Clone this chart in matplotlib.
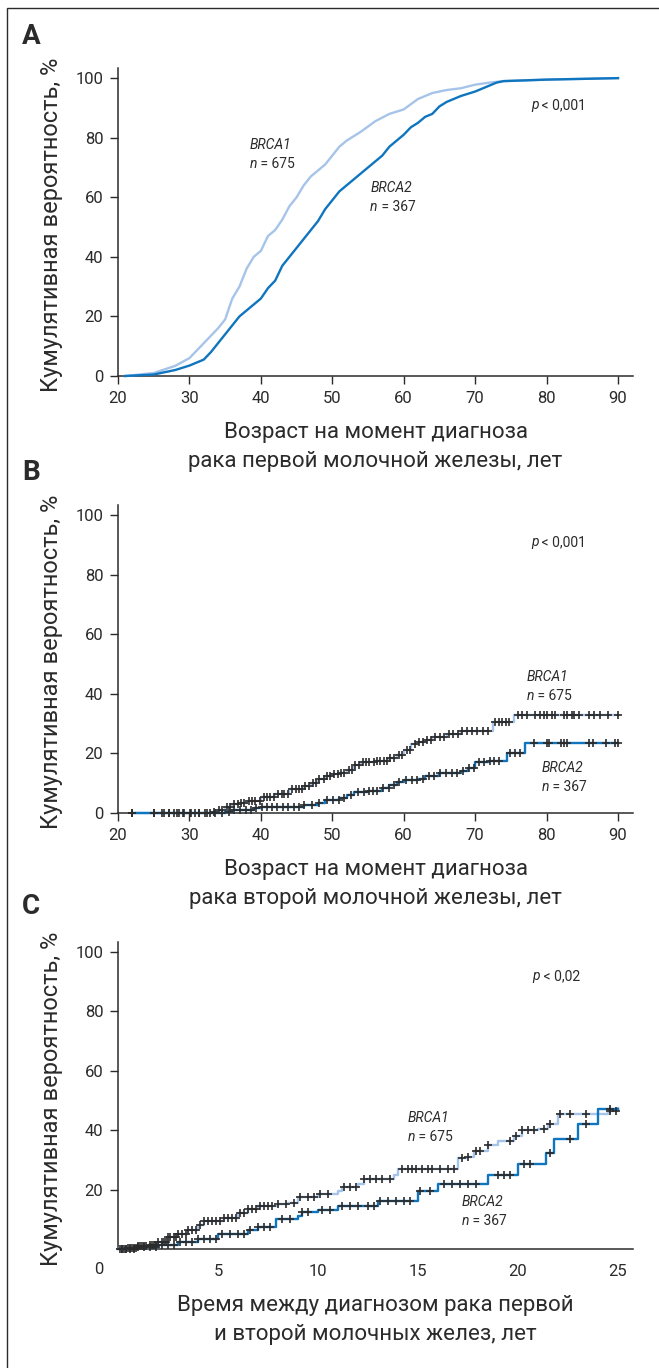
import matplotlib.pyplot as plt
import numpy as np
from matplotlib.patches import Rectangle

plt.rcParams['font.family'] = ['Roboto', 'DejaVu Sans']

LIGHT = '#a6c4e9'
DARK = '#0f75bf'
INK = '#2b2b2b'

# ---- panel A: age at first breast cancer
a_age1 = [21, 25, 28, 30, 32, 34, 35, 36, 37, 38, 39, 40, 41, 42, 43, 44, 45, 46, 47, 48, 49,
          50, 51, 52, 54, 56, 58, 60, 62, 64, 66, 68, 70, 72, 74, 80, 90]
a_cum1 = [0, 1, 3.4, 6, 11, 16, 19, 26, 30, 36, 40, 42, 47, 49, 52.5, 57, 60, 64, 67, 69, 71,
          74, 77, 79, 82, 85.5, 88, 89.5, 93, 95, 96, 96.6, 97.8, 98.5, 99, 99.5, 100]
a_age2 = [21, 25, 28, 30, 32, 33, 34, 35, 36, 37, 38, 39, 40, 41, 42, 43, 44, 45, 46, 47, 48, 49,
          50, 51, 52, 53, 54, 55, 56, 57, 58, 59, 60, 61, 62, 63, 64, 65, 66, 67, 68, 70, 71, 72,
          73, 74, 80, 90]
a_cum2 = [0, 0.5, 2, 3.5, 5.5, 8, 11, 14, 17, 20, 22, 24, 26, 29.5, 32, 37, 40, 43, 46, 49, 52, 56,
          59, 62, 64, 66, 68, 70, 72, 74, 77, 79, 81, 83.5, 85, 87, 88, 90.5, 92, 93, 94, 95.5, 96.5,
          97.5, 98.5, 99, 99.5, 100]

# ---- panel B: age at second breast cancer
b_age1 = [22, 33, 34, 35, 36, 37, 38, 40, 42, 44, 46, 47, 48, 49, 50, 51, 52, 53, 54, 56, 58, 59,
          60, 61, 62, 63, 64, 66, 68, 72.5, 75.5, 90]
b_cum1 = [0, 0.5, 1, 2, 3, 3.5, 4, 5.5, 6.5, 8, 9, 10, 11.5, 12.5, 13, 13.5, 14.5, 16, 17, 17.5,
          18.5, 19.5, 21, 23, 24, 24.5, 25.5, 26.5, 27.5, 30.5, 33, 33]
b_cens1 = [22, 25.1, 26.4, 27.2, 27.9, 28.6, 29.3, 30.1, 30.8, 31.4, 32.2, 32.9, 33.4, 34.1, 34.6,
           35.2, 35.7, 36.3, 36.8, 37.2, 37.7, 38.3, 38.8, 39.2, 39.9, 40.4, 40.8, 41.3, 41.9, 42.4,
           42.9, 43.3, 43.8, 44.4, 44.9, 45.3, 45.7, 46.2, 46.8, 47.3, 47.7, 48.2, 48.8, 49.3, 49.7,
           50.3, 50.8, 51.2, 51.7, 52.3, 52.7, 53.2, 53.8, 54.3, 54.7, 55.2, 55.8, 56.3, 56.7, 57.2,
           57.6, 58.1, 58.7, 59.3, 59.8, 60.4, 60.9, 61.6, 62.2, 62.7, 63.3, 63.8, 64.4, 65.1, 65.7,
           66.3, 66.9, 67.6, 68.2, 68.9, 69.5, 70.2, 71.1, 71.8, 72.8, 73.3, 73.8, 74.3, 74.8,
           76.0, 76.6, 77.3, 78.4, 79.1, 79.7, 80.1, 80.7, 81.2, 82.5, 82.9, 83.5, 83.9, 84.6, 86.0,
           86.6, 87.5, 88.6, 90]
b_age2 = [22, 35, 36, 39, 40, 46, 48, 49, 51, 52, 53, 55, 57, 58, 59, 60, 62, 63, 65, 68, 69, 70,
          72, 74.5, 77, 90]
b_cum2 = [0, 0.5, 1, 1.8, 2, 2.8, 3.5, 4.5, 5, 6, 7.2, 7.5, 8.5, 9.5, 10.5, 11, 11.5, 12.5, 13.5,
          14, 15, 17, 17.5, 20, 23.5, 23.5]
b_cens2 = [22, 25, 26.2, 27.1, 28.3, 29.1, 30.2, 31.3, 32.4, 33.6, 34.6, 35.6, 36.3, 37.1, 37.9,
           38.6, 39.3, 40.1, 40.9, 41.6, 42.3, 43.1, 43.8, 44.6, 45.3, 46.1, 47.2, 48.1, 49.3, 50.1,
           50.9, 51.6, 52.6, 53.6, 54.5, 55.1, 55.7, 56.3, 57.1, 57.9, 58.7, 59.4, 60.3, 61.1, 61.9,
           62.7, 63.5, 64.3, 65.1, 65.9, 66.7, 67.5, 68.3, 69.1, 69.8, 70.6, 71.3, 72.1, 72.7, 73.4,
           74.9, 75.6, 76.3, 78.3, 80.1, 80.4, 82.0, 82.5, 82.9, 86.0, 86.5, 88.3, 89.6, 90]

# ---- panel C: years between first and second cancer
c_t1 = [0, 0.5, 1, 1.5, 2, 2.5, 3, 3.5, 4, 4.3, 5.3, 6, 6.5, 7, 8, 8.5, 9, 10, 11, 11.2, 12, 12.3,
        13.8, 14, 17, 17.5, 17.8, 18.5, 19, 19.8, 20.2, 21, 21.5, 22, 24.5, 25]
c_cum1 = [0, 0.5, 1, 1.5, 2.5, 4, 5, 6.5, 8, 9.5, 10.5, 12, 13.5, 14.5, 15, 15.5, 17.5, 18.5,
          19.5, 21, 22, 23.5, 25, 27, 30.5, 31, 33, 35, 36.5, 38, 40, 40.5, 42, 45.5, 46.5, 47.5]
c_cens1 = [0.1, 0.2, 0.3, 0.4, 0.5, 0.6, 0.7, 0.8, 0.9, 1.0, 1.1, 1.2, 1.3, 1.4, 1.6, 1.7, 1.8,
           1.9, 2.0, 2.2, 2.3, 2.4, 2.5, 2.6, 2.8, 2.9, 3.0, 3.2, 3.4, 3.5, 3.7, 3.9, 4.1, 4.3, 4.5,
           4.7, 4.9, 5.1, 5.3, 5.5, 5.7, 5.9, 6.1, 6.3, 6.5, 6.7, 6.9, 7.1, 7.3, 7.5, 7.7, 8.0, 8.4,
           8.8, 9.1, 9.5, 9.8, 10.1, 10.5, 11.3, 11.6, 11.9, 12.3, 12.6, 12.9, 13.2, 13.6, 14.2,
           14.5, 14.7, 14.9, 15.2, 15.5, 15.7, 16.1, 16.5, 16.8, 17.2, 17.5, 17.9, 18.1, 18.5, 19.6,
           19.9, 20.2, 20.5, 20.8, 21.3, 21.6, 22.1, 22.6, 23.4, 24.6, 24.9]
c_t2 = [0, 1, 2, 3, 4, 5, 6.5, 7, 7.9, 9, 9.2, 10, 11, 13, 15, 16, 18.5, 20, 21.4, 21.8, 23, 24, 25]
c_cum2 = [0, 0.7, 1.5, 2.5, 3.5, 5, 6.5, 7.5, 10, 11, 12.5, 13, 14.5, 16, 19.5, 22, 25, 28.5, 32.5,
          37, 42, 47, 47]
c_cens2 = [0.2, 0.4, 0.6, 0.8, 1.0, 1.3, 1.6, 1.9, 2.2, 2.5, 2.8, 3.1, 3.4, 3.7, 4.0, 4.3, 4.6, 4.9,
           5.2, 5.6, 6.0, 6.3, 6.6, 7.0, 7.3, 7.6, 8.2, 8.6, 9.2, 9.5, 10.2, 10.6, 11.2, 11.6, 12.0,
           12.5, 12.8, 13.1, 13.5, 13.9, 14.3, 14.6, 15.1, 15.6, 16.3, 16.7, 17.1, 17.5, 17.9, 19.0,
           19.3, 19.6, 20.3, 20.6, 21.6, 22.6, 23.4, 24.6]

W, H = 659, 1368
fig = plt.figure(figsize=(W / 100, H / 100), dpi=100)
fig.add_artist(Rectangle((7 / W, -0.01), 1.0, 1 - 8 / H + 0.01, transform=fig.transFigure,
                         fill=False, ec=INK, lw=1.0))


def make_axes(top, bottom):
    ax = fig.add_axes([118 / W, 1 - bottom / H, (633 - 118) / W, (bottom - top) / H])
    for s in ['top', 'right']:
        ax.spines[s].set_visible(False)
    for s in ['left', 'bottom']:
        ax.spines[s].set_color(INK)
        ax.spines[s].set_linewidth(1.1)
    ax.tick_params(colors=INK, labelsize=12, width=1.0, length=5.5, pad=5)
    ax.set_ylim(0, 103.4)
    ax.set_ylabel('Кумулятивная вероятность, %', fontsize=17, color=INK)
    ax.yaxis.set_label_coords(-0.107, 0.49)
    return ax


def step_y(xs, ys, pts):
    idx = np.searchsorted(xs, pts, side='right') - 1
    return np.array(ys)[idx]


def label(ax, x, y, name, n):
    ax.text(x, y, name, style='italic', fontsize=10, color=INK, va='center')
    t = ax.text(x, y - 6.3, 'n', style='italic', fontsize=10, color=INK, va='center')
    ax.annotate(' = ' + n, xy=(1, 0), xycoords=t, va='bottom', fontsize=10, color=INK)


def pval(ax, x, y, s):
    t = ax.text(x, y, 'p', style='italic', fontsize=10, color=INK, va='center')
    ax.annotate(' < ' + s, xy=(1, 0), xycoords=t, va='bottom', fontsize=10, color=INK)


def censored(ax, xs, ys, pts):
    ax.plot(pts, step_y(xs, ys, pts), '+', color=INK, ms=6, mew=1.2, clip_on=False, zorder=5)


# A
axA = make_axes(68, 376)
axA.set_xlim(20, 92.1)
axA.set_xticks([20, 30, 40, 50, 60, 70, 80, 90])
axA.set_yticks([0, 20, 40, 60, 80, 100])
axA.plot(a_age1, a_cum1, color=LIGHT, lw=1.7, clip_on=False, zorder=3)
axA.plot(a_age2, a_cum2, color=DARK, lw=1.7, clip_on=False, zorder=4)
label(axA, 38.4, 77.6, 'BRCA1', '675')
label(axA, 55.3, 63, 'BRCA2', '367')
pval(axA, 77.8, 91, '0,001')
axA.set_xlabel('Возраст на момент диагноза\nрака первой молочной железы, лет', fontsize=16,
               color=INK, linespacing=1.5)
axA.xaxis.set_label_coords(0.5, -0.15)

# B
axB = make_axes(505, 813)
axB.set_xlim(20, 92.1)
axB.set_xticks([20, 30, 40, 50, 60, 70, 80, 90])
axB.set_yticks([0, 20, 40, 60, 80, 100])
axB.plot(b_age1, b_cum1, color=LIGHT, lw=1.7, drawstyle='steps-post', clip_on=False, zorder=3)
axB.plot(b_age2, b_cum2, color=DARK, lw=1.7, drawstyle='steps-post', clip_on=False, zorder=4)
censored(axB, b_age1, b_cum1, b_cens1)
censored(axB, b_age2, b_cum2, b_cens2)
label(axB, 77.2, 45.7, 'BRCA1', '675')
label(axB, 79.3, 15, 'BRCA2', '367')
pval(axB, 77.8, 91, '0,001')
axB.set_xlabel('Возраст на момент диагноза\nрака второй молочной железы, лет', fontsize=16,
               color=INK, linespacing=1.5)
axB.xaxis.set_label_coords(0.5, -0.15)

# C
axC = make_axes(942, 1249)
axC.set_xlim(0, 25.75)
axC.set_xticks([5, 10, 15, 20, 25])
axC.set_yticks([20, 40, 60, 80, 100])
axC.tick_params(axis='x', length=0, pad=11)
axC.text(-0.95, -6.8, '0', fontsize=12, color=INK, ha='center', va='center', clip_on=False)
axC.plot(c_t1, c_cum1, color=LIGHT, lw=1.7, drawstyle='steps-post', clip_on=False, zorder=3)
axC.plot(c_t2, c_cum2, color=DARK, lw=1.7, drawstyle='steps-post', clip_on=False, zorder=4)
censored(axC, c_t1, c_cum1, c_cens1)
censored(axC, c_t2, c_cum2, c_cens2)
label(axC, 14.5, 44, 'BRCA1', '675')
label(axC, 17.2, 15.7, 'BRCA2', '367')
pval(axC, 20.7, 91.8, '0,02')
axC.set_xlabel('Время между диагнозом рака первой\nи второй молочных желез, лет', fontsize=16,
               color=INK, linespacing=1.5)
axC.xaxis.set_label_coords(0.5, -0.15)

for letter, y in [('A', 37), ('B', 472), ('C', 906)]:
    fig.text(22 / W, 1 - y / H, letter, fontsize=20, fontweight='bold', color=INK,
             ha='left', va='center')

fig.savefig('out.png', dpi=100)
